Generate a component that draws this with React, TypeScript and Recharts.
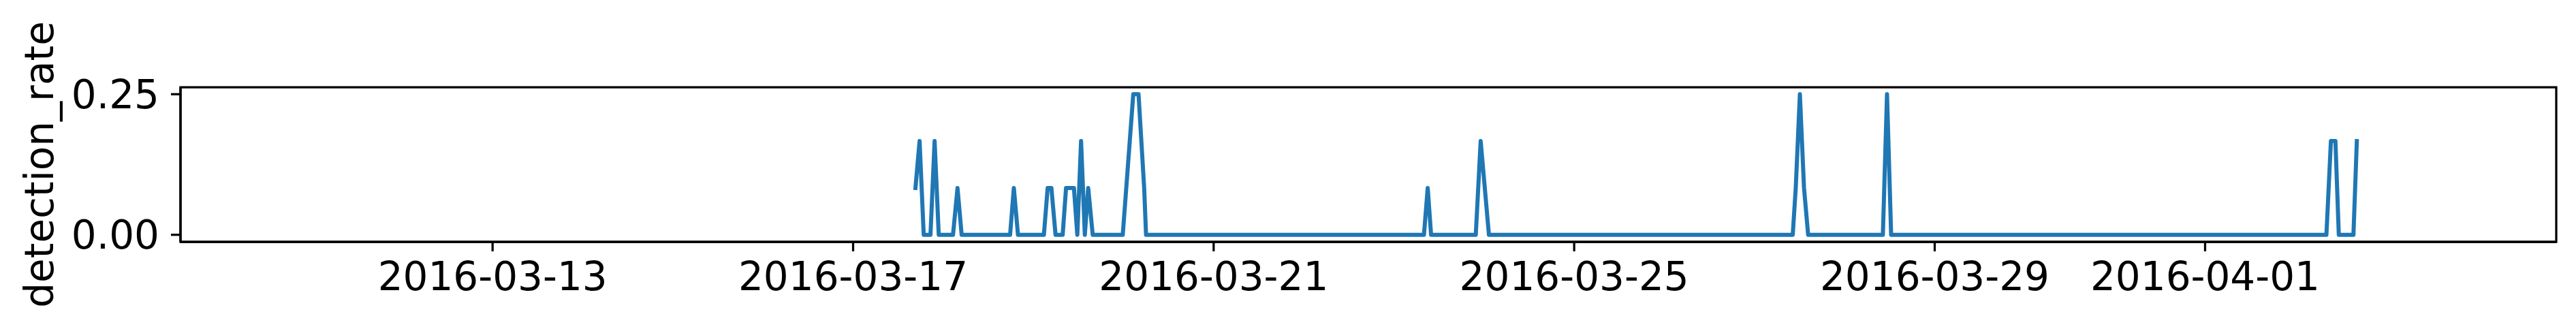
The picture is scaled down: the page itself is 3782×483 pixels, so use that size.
import { Line, LineChart, ReferenceArea, XAxis, YAxis } from "recharts";

// Vertices of the detection_rate trace (UTC).
const TIMES = [
  "2016-03-17T16:36", "2016-03-17T17:42", "2016-03-17T18:48", "2016-03-17T20:36",
  "2016-03-17T21:42", "2016-03-17T22:48", "2016-03-18T02:36", "2016-03-18T03:48",
  "2016-03-18T04:54", "2016-03-18T17:48", "2016-03-18T18:48", "2016-03-18T19:54",
  "2016-03-19T02:48", "2016-03-19T03:48", "2016-03-19T04:48", "2016-03-19T05:54",
  "2016-03-19T07:48", "2016-03-19T08:42", "2016-03-19T10:48", "2016-03-19T11:42",
  "2016-03-19T12:42", "2016-03-19T13:42", "2016-03-19T14:36", "2016-03-19T15:48",
  "2016-03-19T23:48", "2016-03-20T02:36", "2016-03-20T04:00", "2016-03-20T05:30",
  "2016-03-20T06:00", "2016-03-23T08:00", "2016-03-23T09:00", "2016-03-23T09:54",
  "2016-03-23T21:48", "2016-03-23T23:06", "2016-03-24T01:18", "2016-03-27T10:12",
  "2016-03-27T11:00", "2016-03-27T12:06", "2016-03-27T13:12", "2016-03-27T14:18",
  "2016-03-28T10:12", "2016-03-28T11:18", "2016-03-28T12:24", "2016-04-02T08:18",
  "2016-04-02T09:30", "2016-04-02T10:42", "2016-04-02T11:36", "2016-04-02T15:30",
  "2016-04-02T16:24",
];

const RATES = [
  0.0833, 0.1667, 0, 0,
  0.1667, 0, 0, 0.0833,
  0, 0, 0.0833, 0,
  0, 0.0833, 0.0833, 0,
  0, 0.0833, 0.0833, 0,
  0.1667, 0, 0.0833, 0,
  0, 0.25, 0.25, 0.0833,
  0, 0, 0.0833, 0,
  0, 0.1667, 0, 0,
  0.0833, 0.25, 0.0833, 0,
  0, 0.25, 0, 0,
  0.1667, 0.1667, 0, 0,
  0.1667,
];

const X_TICKS = ["2016-03-13", "2016-03-17", "2016-03-21", "2016-03-25", "2016-03-29", "2016-04-01"];
const Y_TICKS = [0, 0.25];
const X_RANGE = ["2016-03-09T12:54", "2016-04-04T21:30"];
const Y_RANGE = [-0.0125, 0.2625];

const utc = (s: string) => Date.parse(s.length === 10 ? `${s}T00:00Z` : `${s}Z`);

const FONT = "DejaVu Sans";
const BLUE = "#1f77b4";

function formatDay(ms: number): string {
  return new Date(ms).toISOString().slice(0, 10);
}

export default function App() {
  const rows = TIMES.map((t, i) => ({ t: utc(t), v: RATES[i] }));
  const xDomain = [utc(X_RANGE[0]), utc(X_RANGE[1])];
  const tick = { fontSize: 58, fill: "#000", fontFamily: FONT };
  const spine = { stroke: "#000", strokeWidth: 3.25 };

  return (
    <div style={{ position: "absolute", left: 0, top: 0, width: 3782, height: 483, background: "#fff" }}>
      <LineChart
        width={3782}
        height={483}
        data={rows}
        margin={{ top: 128, right: 29, bottom: 0, left: 0 }}
      >
        <XAxis
          dataKey="t"
          type="number"
          scale="time"
          domain={xDomain}
          allowDataOverflow
          ticks={X_TICKS.map(utc)}
          tickFormatter={formatDay}
          tick={tick}
          tickSize={14}
          tickMargin={16}
          tickLine={{ stroke: "#000", strokeWidth: 3.25 }}
          axisLine={spine}
          height={128}
          interval={0}
        />
        <YAxis
          type="number"
          domain={Y_RANGE}
          allowDataOverflow
          ticks={Y_TICKS}
          tickFormatter={(v: number) => v.toFixed(2)}
          tick={tick}
          tickSize={14}
          tickMargin={17}
          tickLine={{ stroke: "#000", strokeWidth: 3.25 }}
          axisLine={spine}
          width={265}
          interval={0}
          label={{
            content: (props: any) => {
              const vb = props.viewBox ?? { x: 0, y: 128, width: 265, height: 227 };
              const x = vb.x + 78;
              const y = vb.y + vb.height / 2;
              return (
                <text
                  x={x}
                  y={y}
                  transform={`rotate(-90, ${x}, ${y})`}
                  textAnchor="middle"
                  fontSize={58}
                  fontFamily={FONT}
                  fill="#000"
                >
                  detection_rate
                </text>
              );
            },
          }}
        />
        {/* full frame around the plot, like matplotlib's four spines */}
        <ReferenceArea
          x1={xDomain[0]}
          x2={xDomain[1]}
          y1={Y_RANGE[0]}
          y2={Y_RANGE[1]}
          fill="none"
          stroke="#000"
          strokeWidth={3.25}
          ifOverflow="visible"
        />
        <Line
          type="linear"
          dataKey="v"
          stroke={BLUE}
          strokeWidth={6}
          strokeLinejoin="round"
          strokeLinecap="square"
          dot={false}
          activeDot={false}
          isAnimationActive={false}
        />
      </LineChart>
    </div>
  );
}
